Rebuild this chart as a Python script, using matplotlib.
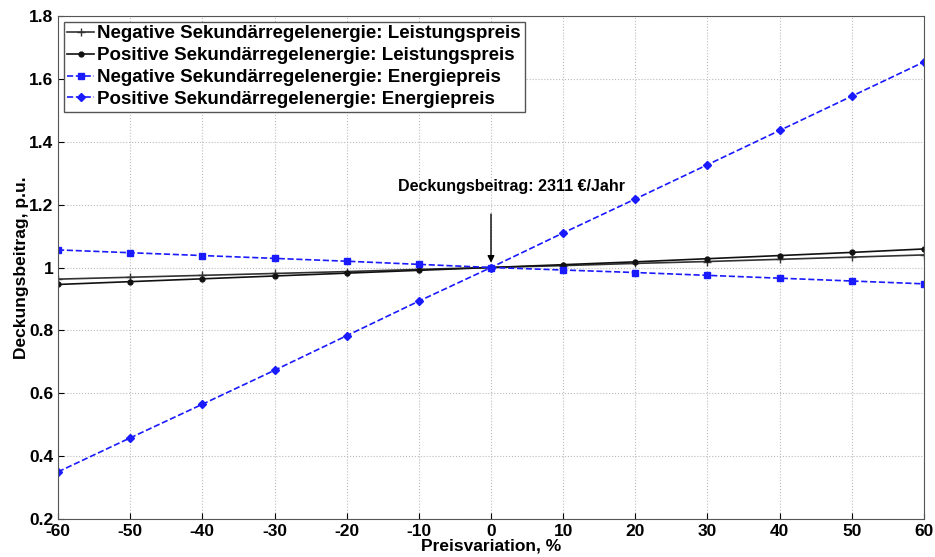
"""
    Sensitivity of the contribution margin to price variation
"""

import numpy as np
import matplotlib.pyplot as plt

plt.rcParams['font.family'] = ['Liberation Sans', 'DejaVu Sans']
plt.rcParams['font.weight'] = 'bold'
plt.rcParams['axes.unicode_minus'] = False

variation = [-60, -50, -40, -30, -20, -10, 0, 10, 20, 30, 40, 50, 60]

neg_leistung = [0.963, 0.969, 0.975, 0.981, 0.987, 0.994, 1.0, 1.006, 1.013, 1.019, 1.026, 1.033, 1.040]
pos_leistung = [0.946, 0.955, 0.964, 0.973, 0.982, 0.991, 1.0, 1.009, 1.018, 1.028, 1.038, 1.048, 1.059]
neg_energie = [1.056, 1.047, 1.038, 1.029, 1.020, 1.010, 1.0, 0.992, 0.984, 0.975, 0.966, 0.957, 0.948]
pos_energie = [0.350, 0.458, 0.565, 0.673, 0.783, 0.893, 1.0, 1.110, 1.218, 1.327, 1.436, 1.545, 1.654]

labels = ['Negative Sekundärregelenergie: Leistungspreis',
          'Positive Sekundärregelenergie: Leistungspreis',
          'Negative Sekundärregelenergie: Energiepreis',
          'Positive Sekundärregelenergie: Energiepreis']

fig = plt.figure(figsize=(9.35, 5.57), dpi=100)
ax = fig.add_axes([58 / 935, 38 / 557, 866 / 935, 503 / 557])

ax.plot(variation, neg_leistung, color='#333333', marker='+', markersize=6,
        linewidth=1.2, label=labels[0])
ax.plot(variation, pos_leistung, color='#111111', marker='.', markersize=7,
        linewidth=1.2, label=labels[1])
ax.plot(variation, neg_energie, color='#1a1aff', marker='s', markersize=5,
        linestyle='--', linewidth=1.2, label=labels[2])
ax.plot(variation, pos_energie, color='#1a1aff', marker='D', markersize=4.5,
        linestyle='--', linewidth=1.2, label=labels[3])

# annotation: label above, arrow pointing at the base case
ax.text(2.8, 1.235, 'Deckungsbeitrag: 2311 €/Jahr', ha='center', va='bottom',
        fontsize=11.5, fontweight='bold')
ax.annotate('', xy=(0, 1.015), xytext=(0, 1.17),
            arrowprops=dict(arrowstyle='-|>', color='black', lw=1,
                            shrinkA=0, shrinkB=0))

ax.set_xlim(-60, 60)
ax.set_ylim(0.2, 1.8)
ax.set_xticks(np.arange(-60, 61, 10))
ax.set_yticks(np.arange(0.2, 1.81, 0.2))
ax.set_yticklabels(['0.2', '0.4', '0.6', '0.8', '1', '1.2', '1.4', '1.6', '1.8'])
ax.tick_params(direction='in', labelsize=12.5, length=4)
ax.grid(True, linestyle=':', color='#bbbbbb', linewidth=0.8)

ax.set_xlabel('Preisvariation, %', fontsize=12.5, fontweight='bold', labelpad=0)
ax.set_ylabel('Deckungsbeitrag, p.u.', fontsize=12.5, fontweight='bold', labelpad=0)

for s in ax.spines.values():
    s.set_color('#555555')

ax.legend(loc='upper left', fontsize=13.5, handlelength=1.4, handletextpad=0.2,
          borderaxespad=0.3, borderpad=0.2, labelspacing=0.25,
          fancybox=False, edgecolor='#555555', framealpha=1)

fig.savefig('out.png', dpi=100)
